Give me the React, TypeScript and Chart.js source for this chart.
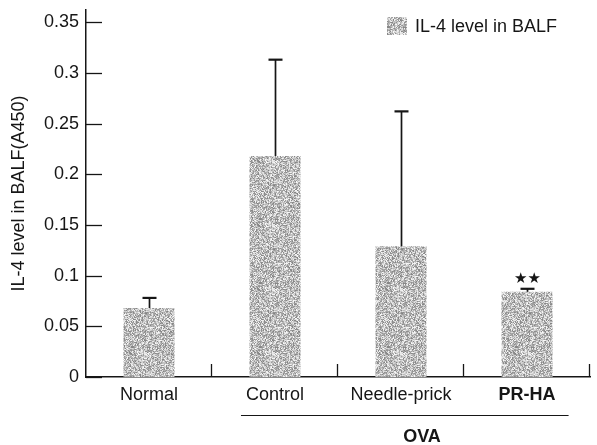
import React, { useEffect, useRef } from "react";
import { Chart, registerables } from "chart.js";
Chart.register(...registerables);

const categories = ["Normal", "Control", "Needle-prick", "PR-HA"];
const il4Means = [0.068, 0.218, 0.129, 0.084];
const il4ErrorTops = [0.078, 0.313, 0.262, 0.087];
const yTickValues = [0, 0.05, 0.1, 0.15, 0.2, 0.25, 0.3, 0.35];
const yTickLabels = ["0", "0.05", "0.1", "0.15", "0.2", "0.25", "0.3", "0.35"];
const legendLabel = "IL-4 level in BALF";
const yAxisTitle = "IL-4 level in BALF(A450)";
const groupLabel = "OVA";
const significance = ["", "", "", "★★"];

const FONT = "'Liberation Sans', Arial, Helvetica, sans-serif";
const INK = "#161616";

function makeStipple(): CanvasPattern | string {
  const c = document.createElement("canvas");
  c.width = 64;
  c.height = 64;
  const g = c.getContext("2d");
  if (!g) return "#c0c0c0";
  const img = g.createImageData(64, 64);
  for (let yy = 0; yy < 64; yy++) {
    for (let xx = 0; xx < 64; xx++) {
      let h = Math.imul(xx + 1, 374761393) ^ Math.imul(yy + 7, 668265263);
      h = Math.imul(h ^ (h >>> 13), 1274126177);
      h = (h ^ (h >>> 16)) >>> 0;
      const t = (h & 255) / 255;
      const v = Math.round(130 + t * 120);
      const k = (yy * 64 + xx) * 4;
      img.data[k] = v;
      img.data[k + 1] = v;
      img.data[k + 2] = v;
      img.data[k + 3] = 255;
    }
  }
  g.putImageData(img, 0, 0);
  const p = g.createPattern(c, "repeat");
  return p || "#c0c0c0";
}

export default function App() {
  const ref = useRef<HTMLCanvasElement | null>(null);

  useEffect(() => {
    if (!ref.current) return;
    const stipple = makeStipple();

    const decor = {
      id: "decor",
      afterDraw(chart: any) {
        const ctx = chart.ctx as CanvasRenderingContext2D;
        const xs = chart.scales.x;
        const ys = chart.scales.y;
        const area = chart.chartArea;
        const catW = (area.right - area.left) / categories.length;
        ctx.save();
        ctx.strokeStyle = INK;
        ctx.lineWidth = 1.3;
        // inward y ticks
        yTickValues.forEach((v) => {
          const py = Math.round(ys.getPixelForValue(v)) + 0.5;
          ctx.beginPath();
          ctx.moveTo(area.left, py);
          ctx.lineTo(area.left + 16, py);
          ctx.stroke();
        });
        // x ticks at category boundaries
        for (let i = 1; i <= categories.length; i++) {
          const px = Math.round(area.left + catW * i) - 0.5;
          ctx.beginPath();
          ctx.moveTo(px, area.bottom);
          ctx.lineTo(px, area.bottom - 13);
          ctx.stroke();
        }
        // error bars
        const meta = chart.getDatasetMeta(0);
        meta.data.forEach((bar: any, i: number) => {
          const top = ys.getPixelForValue(il4ErrorTops[i]);
          const bx = Math.round(bar.x) + 0.5;
          ctx.lineWidth = 1.7;
          ctx.beginPath();
          ctx.moveTo(bx, bar.y);
          ctx.lineTo(bx, top);
          ctx.stroke();
          ctx.lineWidth = 2.2;
          ctx.beginPath();
          ctx.moveTo(bx - 7, top);
          ctx.lineTo(bx + 7, top);
          ctx.stroke();
          if (significance[i]) {
            ctx.fillStyle = INK;
            ctx.font = "15px 'DejaVu Sans', sans-serif";
            ctx.textAlign = "center";
            ctx.textBaseline = "middle";
            ctx.fillText(significance[i], bx, top - 10);
          }
        });
        // group line + label
        const x1 = xs.getPixelForValue(1) - catW * 0.27;
        const x2 = xs.getPixelForValue(3) + catW * 0.33;
        const ly = area.bottom + 38.5;
        ctx.lineWidth = 1.2;
        ctx.beginPath();
        ctx.moveTo(x1, ly);
        ctx.lineTo(x2, ly);
        ctx.stroke();
        ctx.fillStyle = INK;
        ctx.font = `bold 18px ${FONT}`;
        ctx.textAlign = "center";
        ctx.textBaseline = "middle";
        ctx.fillText(groupLabel, xs.getPixelForValue(2) + 21, area.bottom + 60);
        // legend
        const lx = area.left + 301;
        const lyTop = area.top + 7;
        ctx.fillStyle = stipple as any;
        ctx.fillRect(lx, lyTop, 20, 18);
        ctx.fillStyle = INK;
        ctx.font = `18px ${FONT}`;
        ctx.textAlign = "left";
        ctx.textBaseline = "middle";
        ctx.fillText(legendLabel, lx + 28, lyTop + 10);
        ctx.restore();
      },
    };

    const chart = new Chart(ref.current, {
      type: "bar",
      data: {
        labels: categories,
        datasets: [
          {
            label: legendLabel,
            data: il4Means,
            backgroundColor: stipple as any,
            borderWidth: 0,
            categoryPercentage: 1,
            barPercentage: 0.405,
          },
        ],
      },
      options: {
        animation: false,
        responsive: true,
        maintainAspectRatio: false,
        layout: { padding: { left: 0, top: 10, right: 7, bottom: 0 } },
        plugins: {
          legend: { display: false },
          tooltip: { enabled: false },
        },
        scales: {
          x: {
            grid: { display: false, drawTicks: false },
            border: { display: true, color: INK, width: 1.5 },
            ticks: {
              padding: 7,
              color: INK,
              font: (c: any) => ({
                family: FONT,
                size: 18,
                weight: c.index === 3 ? "bold" : "normal",
              }),
            },
            afterFit: (s: any) => {
              s.height = 68;
              s.paddingLeft = 0;
              s.paddingRight = 0;
            },
          },
          y: {
            min: 0,
            max: 0.362,
            grid: { display: false, drawTicks: false },
            border: { display: true, color: INK, width: 1.5 },
            afterBuildTicks: (s: any) => {
              s.ticks = yTickValues.map((v) => ({ value: v }));
            },
            ticks: {
              padding: 7,
              color: INK,
              font: { family: FONT, size: 18 },
              callback: (v: any) => {
                const idx = yTickValues.findIndex((t) => Math.abs(t - Number(v)) < 1e-9);
                return idx >= 0 ? yTickLabels[idx] : "";
              },
            },
            title: {
              display: true,
              text: yAxisTitle,
              color: INK,
              font: { family: FONT, size: 18 },
              padding: { top: 8, bottom: 0 },
            },
            afterFit: (s: any) => {
              s.width = 86;
              s.paddingTop = 0;
              s.paddingBottom = 0;
            },
          },
        },
      },
      plugins: [decor],
    });
    return () => chart.destroy();
  }, []);

  return (
    <div style={{ position: "fixed", left: 0, top: 0, width: 597, height: 445, background: "#fff" }}>
      <canvas ref={ref} />
    </div>
  );
}
